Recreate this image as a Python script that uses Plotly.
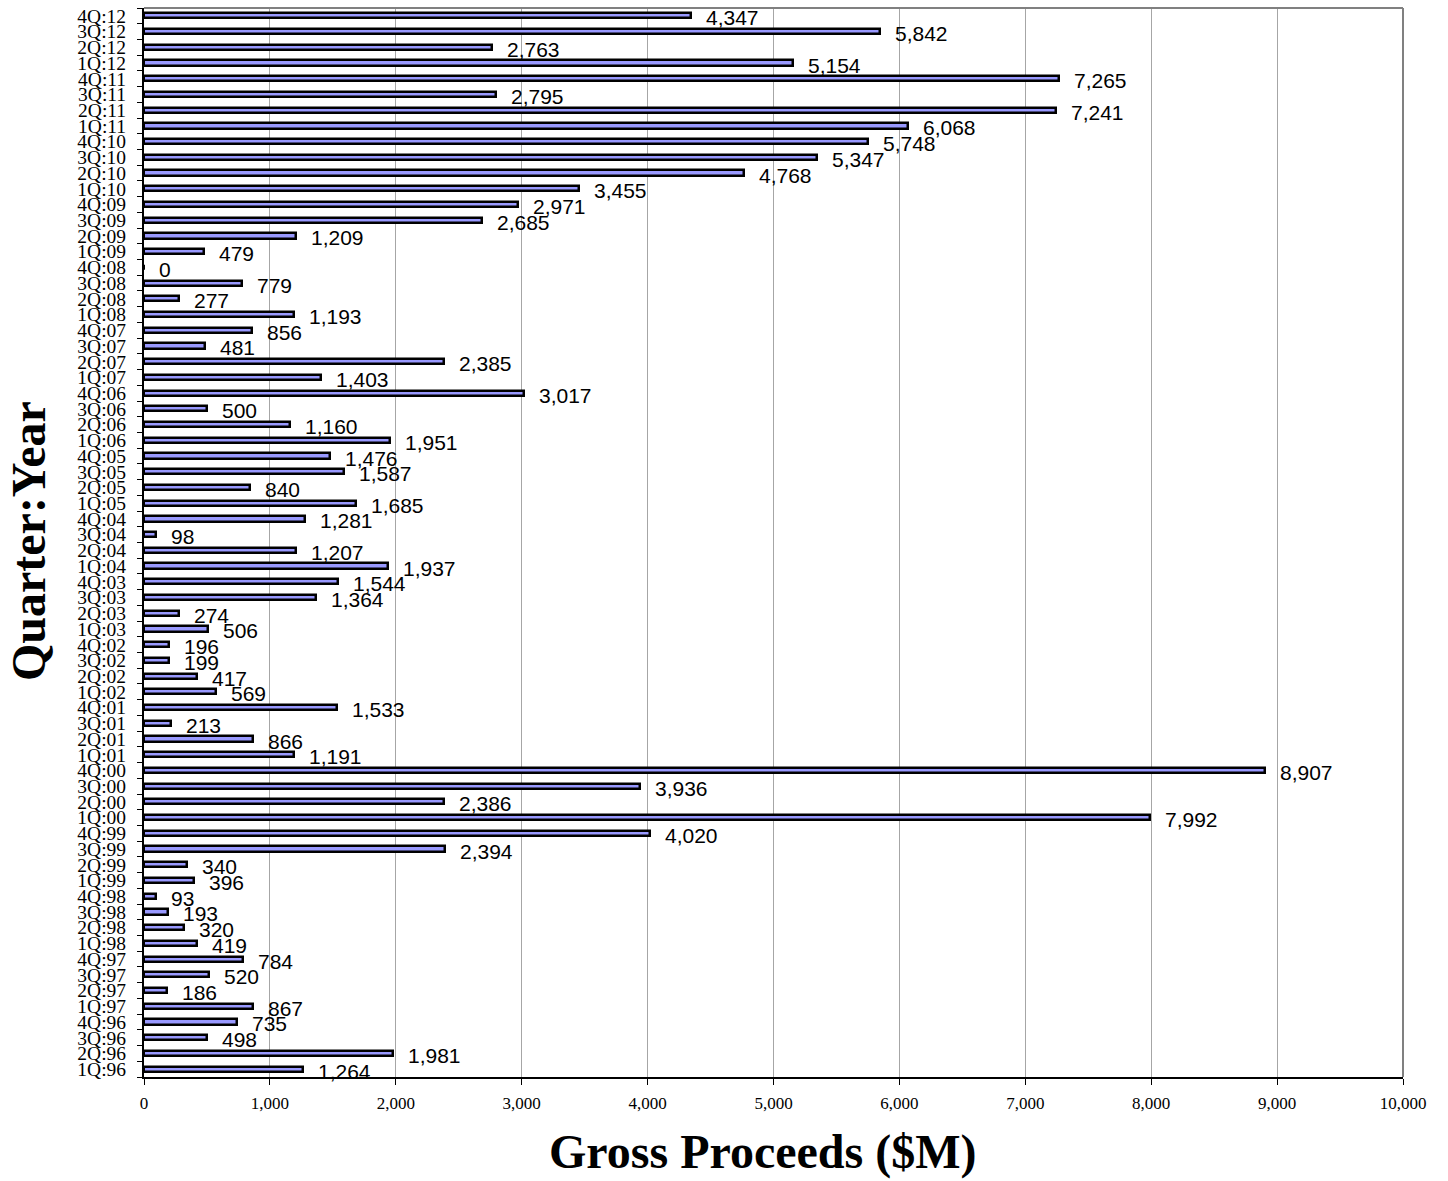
import plotly.graph_objects as go

# Quarterly gross proceeds, 1Q:96 through 4Q:12 (in $M)
quarters = [
    "1Q:96", "2Q:96", "3Q:96", "4Q:96",
    "1Q:97", "2Q:97", "3Q:97", "4Q:97",
    "1Q:98", "2Q:98", "3Q:98", "4Q:98",
    "1Q:99", "2Q:99", "3Q:99", "4Q:99",
    "1Q:00", "2Q:00", "3Q:00", "4Q:00",
    "1Q:01", "2Q:01", "3Q:01", "4Q:01",
    "1Q:02", "2Q:02", "3Q:02", "4Q:02",
    "1Q:03", "2Q:03", "3Q:03", "4Q:03",
    "1Q:04", "2Q:04", "3Q:04", "4Q:04",
    "1Q:05", "2Q:05", "3Q:05", "4Q:05",
    "1Q:06", "2Q:06", "3Q:06", "4Q:06",
    "1Q:07", "2Q:07", "3Q:07", "4Q:07",
    "1Q:08", "2Q:08", "3Q:08", "4Q:08",
    "1Q:09", "2Q:09", "3Q:09", "4Q:09",
    "1Q:10", "2Q:10", "3Q:10", "4Q:10",
    "1Q:11", "2Q:11", "3Q:11", "4Q:11",
    "1Q:12", "2Q:12", "3Q:12", "4Q:12",
]

proceeds = [
    1264, 1981, 498, 735,
    867, 186, 520, 784,
    419, 320, 193, 93,
    396, 340, 2394, 4020,
    7992, 2386, 3936, 8907,
    1191, 866, 213, 1533,
    569, 417, 199, 196,
    506, 274, 1364, 1544,
    1937, 1207, 98, 1281,
    1685, 840, 1587, 1476,
    1951, 1160, 500, 3017,
    1403, 2385, 481, 856,
    1193, 277, 779, 0,
    479, 1209, 2685, 2971,
    3455, 4768, 5347, 5748,
    6068, 7241, 2795, 7265,
    5154, 2763, 5842, 4347,
]

x_tick_values = list(range(0, 10001, 1000))
x_tick_labels = [f"{v:,}" for v in x_tick_values]

fig = go.Figure()

fig.add_trace(go.Bar(
    x=proceeds,
    y=quarters,
    orientation="h",
    width=0.33,
    marker=dict(color="#9999FF", line=dict(color="black", width=2.5)),
    hoverinfo="x+y",
))

# value labels to the right of each bar
for q, v in zip(quarters, proceeds):
    fig.add_annotation(
        x=v, y=q, xref="x", yref="y",
        text=f"{v:,}",
        showarrow=False,
        xanchor="left", yanchor="middle",
        xshift=13, yshift=-2,
        font=dict(family="Liberation Sans, Arial, sans-serif", size=21, color="black"),
    )

# axis titles
fig.add_annotation(
    x=-0.0921, y=0.5014, xref="paper", yref="paper",
    text="<b>Quarter:Year</b>", textangle=-90, showarrow=False,
    xanchor="center", yanchor="middle",
    font=dict(family="Liberation Serif, Times New Roman, serif", size=48, color="black"),
)
fig.add_annotation(
    x=0.4909, y=-0.070, xref="paper", yref="paper",
    text="<b>Gross Proceeds ($M)</b>", showarrow=False,
    xanchor="center", yanchor="middle",
    font=dict(family="Liberation Serif, Times New Roman, serif", size=48, color="black"),
)

# grey frame on the top and right edges of the plot area
fig.add_shape(type="line", xref="paper", yref="paper", x0=0, x1=1, y0=1, y1=1,
              line=dict(color="#808080", width=2), layer="above")
fig.add_shape(type="line", xref="paper", yref="paper", x0=1, x1=1, y0=0, y1=1,
              line=dict(color="#808080", width=2), layer="above")

fig.update_layout(
    width=1448, height=1181,
    margin=dict(l=144, r=45, t=6, b=104, pad=0),
    paper_bgcolor="white",
    plot_bgcolor="white",
    showlegend=False,
    bargap=0,
    xaxis=dict(
        range=[0, 10000],
        tickmode="array",
        tickvals=x_tick_values,
        ticktext=x_tick_labels,
        ticks="outside", ticklen=6, tickcolor="black", tickwidth=1,
        showgrid=True, gridcolor="#A6A6A6", gridwidth=1,
        showline=True, linecolor="black", linewidth=2,
        zeroline=False,
        ticklabelstandoff=4,
        tickfont=dict(family="Liberation Serif, Times New Roman, serif", size=17, color="black"),
        fixedrange=True,
    ),
    yaxis=dict(
        type="category",
        categoryorder="array",
        categoryarray=quarters,
        tickmode="linear", tick0=0, dtick=1,
        tickson="boundaries",
        ticks="outside", ticklen=5, tickcolor="black", tickwidth=1,
        showgrid=False,
        showline=True, linecolor="black", linewidth=2,
        ticklabelstandoff=12,
        tickfont=dict(family="Liberation Serif, Times New Roman, serif", size=19.5, color="black"),
        range=[-0.5, len(quarters) - 0.5],
        fixedrange=True,
    ),
)

fig.write_html("out.html")
